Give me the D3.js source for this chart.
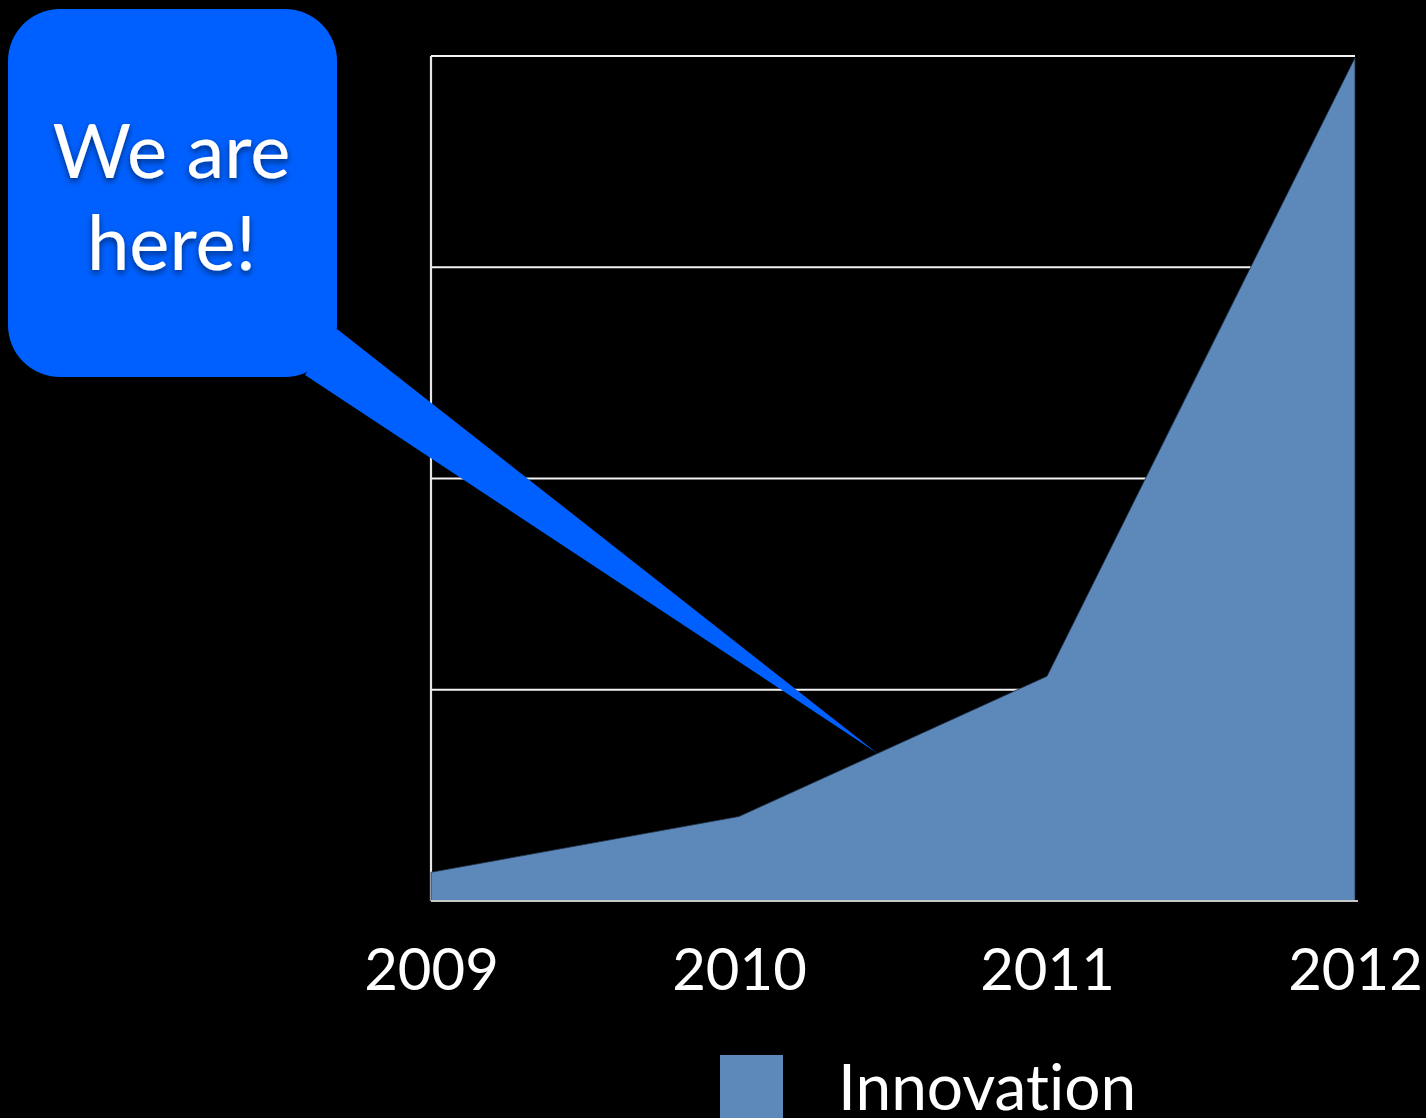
<!DOCTYPE html>
<html>
<head>
<meta charset="utf-8">
<script src="https://cdn.jsdelivr.net/npm/d3@7"></script>
<style>
  html, body { margin: 0; padding: 0; background: #000; overflow: hidden; }
  svg { display: block; }
  text { font-variant-ligatures: none; }
</style>
</head>
<body>
<div id="chart"></div>
<script>
// ── Data ───────────────────────────────────────────────────────
const YEARS = [2009, 2010, 2011, 2012];
const INNOVATION = [3.4, 10, 26.6, 99.8];
const Y_TICKS = [0, 25, 50, 75, 100];
const SERIES_NAME = "Innovation";
const CALLOUT_LINES = ["We are", "here!"];
const CALLOUT_AT = 2010.45;   // where the pointer touches the curve

const W = 1426, H = 1118;
const margin = { top: 56, right: 71, bottom: 217, left: 431 };
const iW = W - margin.left - margin.right;
const iH = H - margin.top - margin.bottom;

const svg = d3.select("#chart").append("svg")
    .attr("width", W)
    .attr("height", H)
    .style("background", "#000");

// soft shadow for the callout text
const defs = svg.append("defs");
const shadow = defs.append("filter").attr("id", "txtShadow")
    .attr("x", "-20%").attr("y", "-20%").attr("width", "140%").attr("height", "140%");
shadow.append("feDropShadow")
    .attr("dx", 0).attr("dy", 3).attr("stdDeviation", 3)
    .attr("flood-color", "#000").attr("flood-opacity", 0.55);

const g = svg.append("g").attr("transform", `translate(${margin.left},${margin.top})`);

// ── Scales ─────────────────────────────────────────────────────
const x = d3.scaleLinear().domain([YEARS[0], YEARS[YEARS.length - 1]]).range([0, iW]);
const y = d3.scaleLinear().domain([0, 100]).range([iH, 0]);

// ── Gridlines ──────────────────────────────────────────────────
g.append("g")
    .selectAll("line")
    .data(Y_TICKS)
    .join("line")
    .attr("x1", 0).attr("x2", iW)
    .attr("y1", d => y(d)).attr("y2", d => y(d))
    .attr("stroke", d => d === 0 ? "#c8c8c8" : "#f2f2f2")
    .attr("stroke-width", 2.2);

g.append("line")
    .attr("x1", 0).attr("x2", 0)
    .attr("y1", y(100)).attr("y2", y(0))
    .attr("stroke", "#e6e6e6")
    .attr("stroke-width", 2.2);

// ── Area ───────────────────────────────────────────────────────
const pts = YEARS.map((yr, i) => ({ yr, v: INNOVATION[i] }));
const area = d3.area()
    .x(d => x(d.yr))
    .y0(y(0))
    .y1(d => y(d.v));

g.append("path")
    .datum(pts)
    .attr("d", area)
    .attr("fill", "#5d89ba")
    .attr("stroke", "#1d2e44")
    .attr("stroke-width", 0.8)
    .attr("stroke-linejoin", "round");

// bottom axis rule over the area
g.append("line")
    .attr("x1", 0).attr("x2", iW + 3)
    .attr("y1", y(0)).attr("y2", y(0))
    .attr("stroke", "#c8c8c8")
    .attr("stroke-width", 2.2);

// ── X axis labels ──────────────────────────────────────────────
const xAxis = g.append("g")
    .attr("transform", `translate(0,${iH})`)
    .call(d3.axisBottom(x).tickValues(YEARS).tickFormat(d3.format("d")).tickSize(0).tickPadding(48));
xAxis.select(".domain").remove();
xAxis.selectAll("text")
    .attr("fill", "#fff")
    .style("font-family", "Lato, 'Open Sans', sans-serif")
    .style("font-size", "58px")
    .attr("dy", "0.71em");

// ── Legend ─────────────────────────────────────────────────────
const legend = svg.append("g").attr("transform", "translate(720,1055)");
legend.append("rect")
    .attr("width", 63).attr("height", 63)
    .attr("fill", "#5d89ba");
legend.append("text")
    .attr("x", 118).attr("y", 55)
    .attr("fill", "#fff")
    .style("font-family", "Lato, 'Open Sans', sans-serif")
    .style("font-size", "64px")
    .text(SERIES_NAME);

// ── Callout ────────────────────────────────────────────────────
const i0 = d3.bisectRight(YEARS, CALLOUT_AT) - 1;
const t = (CALLOUT_AT - YEARS[i0]) / (YEARS[i0 + 1] - YEARS[i0]);
const tipV = INNOVATION[i0] + t * (INNOVATION[i0 + 1] - INNOVATION[i0]);
const tipX = margin.left + x(CALLOUT_AT);
const tipY = margin.top + y(tipV);

const box = { x: 8, y: 9, w: 329, h: 368, r: 52 };
const callout = svg.append("g");

callout.append("path")
    .attr("d", d3.line()([
        [box.x + box.w, box.y + box.h - 48],
        [box.x + box.w - 32, box.y + box.h - 2],
        [tipX, tipY]
    ]) + "Z")
    .attr("fill", "#0060ff");

callout.append("rect")
    .attr("x", box.x).attr("y", box.y)
    .attr("width", box.w).attr("height", box.h)
    .attr("rx", box.r).attr("ry", box.r)
    .attr("fill", "#0060ff");

callout.append("text")
    .attr("text-anchor", "middle")
    .attr("fill", "#fff")
    .attr("filter", "url(#txtShadow)")
    .style("font-family", "Lato, 'Open Sans', sans-serif")
    .style("font-size", "76px")
    .selectAll("tspan")
    .data(CALLOUT_LINES)
    .join("tspan")
    .attr("x", box.x + box.w / 2 - 1)
    .attr("y", (d, i) => 178 + i * 92)
    .text(d => d);
</script>
</body>
</html>
